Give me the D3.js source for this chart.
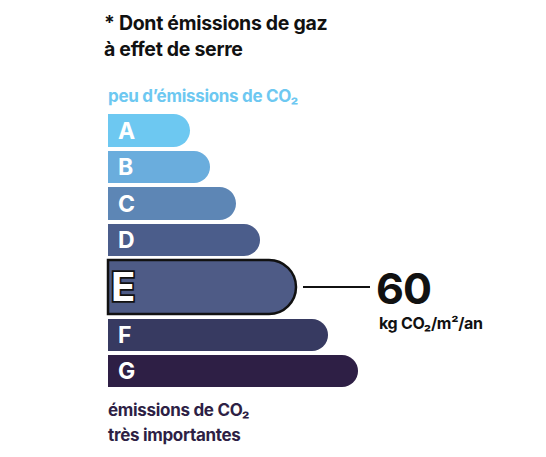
<!DOCTYPE html><html><head><meta charset="utf-8"><script src="https://cdn.jsdelivr.net/npm/d3@7"></script>
<style>body{margin:0;background:#fff}text{font-family:Inter,"Open Sans",sans-serif;font-weight:700}</style></head><body>
<script>
const classes=["A","B","C","D","E","F","G"];
const lengths=[82,102,128,152,188,220,250];
const colors=["#6dc8f1","#6aaddd","#5d86b5","#4b5d8b","#4e5b86","#373a61","#2e1f45"];
const current="E", value="60";
const svg=d3.select("body").append("svg").attr("width",546).attr("height",457);
const x=d3.scaleLinear().domain([0,250]).range([108,358]);
svg.append("text").attr("x",104).attr("y",30).attr("font-size",19.5).attr("fill","#111").attr("letter-spacing",-0.3).text("* Dont émissions de gaz");
svg.append("text").attr("x",104).attr("y",56).attr("font-size",19.5).attr("fill","#111").attr("letter-spacing",-0.3).text("à effet de serre");
svg.append("text").attr("x",108).attr("y",102).attr("font-size",17).attr("fill","#6dc8f1").attr("letter-spacing",-0.3).text("peu d’émissions de CO₂");
const tops=[114,151,187,224,260,319,355], hs=[33,32,33,32,54,32,32];
classes.forEach((c,i)=>{
 const y=tops[i],h=hs[i],x0=x(0),x1=x(lengths[i]),r=h/2;
 const sel=c===current;
 svg.append("path").attr("d",`M${x0},${y}H${x1-r}A${r},${r} 0 0 1 ${x1-r},${y+h}H${x0}Z`)
  .attr("fill",colors[i]).attr("stroke",sel?"#111":"none").attr("stroke-width",2.5);
 const t=svg.append("text").attr("x",x0+(sel?3:10)).attr("y",y+h/2).attr("dy","0.36em")
  .attr("font-size",sel?40:23).attr("font-weight",900).attr("fill","#fff").text(c);
 if(sel){t.attr("stroke","#111").attr("stroke-width",3.5).attr("paint-order","stroke");
  svg.append("line").attr("x1",x1+7).attr("x2",x1+74).attr("y1",y+h/2).attr("y2",y+h/2).attr("stroke","#111").attr("stroke-width",2);
  svg.append("text").attr("x",376).attr("y",y+h/2+17).attr("font-size",43).attr("fill","#111").attr("letter-spacing",-1).text(value);
  svg.append("text").attr("x",379).attr("y",y+h/2+42).attr("font-size",16).attr("fill","#111").attr("letter-spacing",-0.3).text("kg CO₂/m²/an");
 }
});
svg.append("text").attr("x",108).attr("y",416).attr("font-size",17).attr("fill","#2e1f45").attr("letter-spacing",-0.3).text("émissions de CO₂");
svg.append("text").attr("x",108).attr("y",441).attr("font-size",17).attr("fill","#2e1f45").attr("letter-spacing",-0.3).text("très importantes");
</script></body></html>
